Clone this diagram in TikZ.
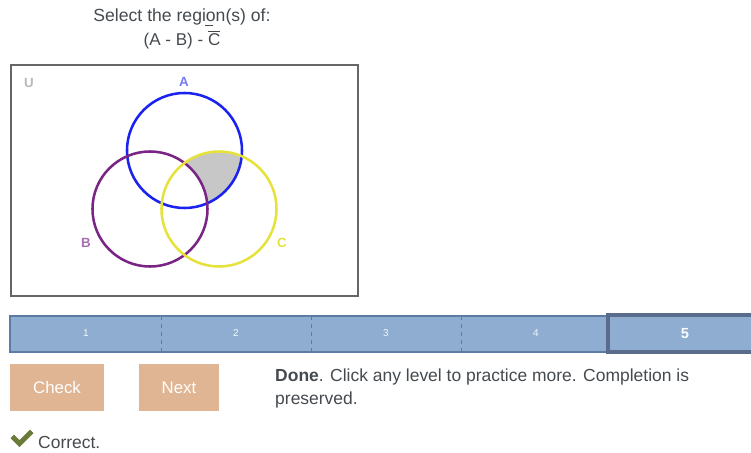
\documentclass[tikz,border=0pt]{standalone}
\usepackage{fontspec}
\setmainfont{Liberation Sans}
\usepackage{tikz}
\definecolor{txt}{HTML}{454A4F}
\definecolor{setA}{HTML}{1A22F0}
\definecolor{setB}{HTML}{7A2585}
\definecolor{setC}{HTML}{E6E23C}
\definecolor{barfill}{HTML}{8EADD1}
\definecolor{barline}{HTML}{5C7CA6}
\definecolor{curline}{HTML}{5A6C8C}
\definecolor{btn}{HTML}{E0B593}
\definecolor{tick}{HTML}{6A7A38}
\tikzset{
  setlabel/.style={font=\bfseries\fontsize{10}{12}\selectfont,inner sep=0pt},
  levelno/.style={text=white!92!barfill,font=\fontsize{7.5}{9}\selectfont,inner sep=0pt},
  button/.style={fill=btn,text=white,font=\fontsize{12.6}{14}\selectfont,inner sep=0pt},
}

\begin{document}
\begin{tikzpicture}[x=.75pt,y=-.75pt,line width=.35pt]
\useasboundingbox (0,0) rectangle (751,453);
\node[text=txt,font=\fontsize{13.2}{15}\selectfont,inner sep=0pt] (title) at (182,17) {Select the region(s) of:};
\node[text=txt,font=\fontsize{12.8}{15}\selectfont,inner sep=0pt] (expr) at (182,40) {(A - B) - $\overline{\hbox{C}}$};
\draw[txt,line width=.8pt] (205,25.5)--(213,25.5);
\draw[line width=1.6pt,draw=black!60] (11,65) rectangle (358,296);
\begin{scope}
\clip (184.5,150.5) circle (57.5);
\clip (219,209) circle (57.5);
\fill[black!22,even odd rule] (11,65) rectangle (358,296) (150,209) circle (57.5);
\end{scope}
\draw[setA,line width=1.9pt] (184.5,150.5) circle (57.5);
\draw[setB,line width=1.9pt] (150,209) circle (57.5);
\draw[setC,line width=1.9pt] (219,209) circle (57.5);
\node[setlabel,text=black!28] (U) at (29,83) {U};
\node[setlabel,text=setA!60] (A) at (184,82) {A};
\node[setlabel,text=setB!65] (B) at (86,243) {B};
\node[setlabel,text=setC] (C) at (282,243) {C};
\draw[fill=barfill,draw=barline,line width=.8pt] (10,316) rectangle (755,352);
\foreach \x in {161,311,461}
  \draw[barline,dashed,line width=.6pt] (\x,316)--(\x,352);
\foreach \n/\x in {1/86,2/236,3/386,4/536}
  \node[levelno] (lv\n) at (\x,333) {\n};
\draw[curline,line width=2.4pt] (608,315) rectangle (756,352);
\node[text=white!95!barfill,font=\bfseries\fontsize{11}{13}\selectfont,inner sep=0pt] (lv5) at (685,334) {5};
\node[button,minimum width=94*.75pt,minimum height=47*.75pt] (check) at (57,387.5) {Check};
\node[button,minimum width=80*.75pt,minimum height=47*.75pt] (next) at (179,387.5) {Next};
\node[text=txt,anchor=north west,align=left,font=\fontsize{13.1}{17}\selectfont,inner sep=0pt] (done) at (275,369) {\textbf{Done}. Click any level to practice more. Completion is\\preserved.};
\fill[tick] (10.5,438)--(14,434.5)--(19.5,440)--(30,429.5)--(33.5,433)--(19.5,447)--cycle;
\node[text=txt,anchor=west,font=\fontsize{13.1}{15}\selectfont,inner sep=0pt] (correct) at (38,442) {Correct.};
\end{tikzpicture}
\end{document}
